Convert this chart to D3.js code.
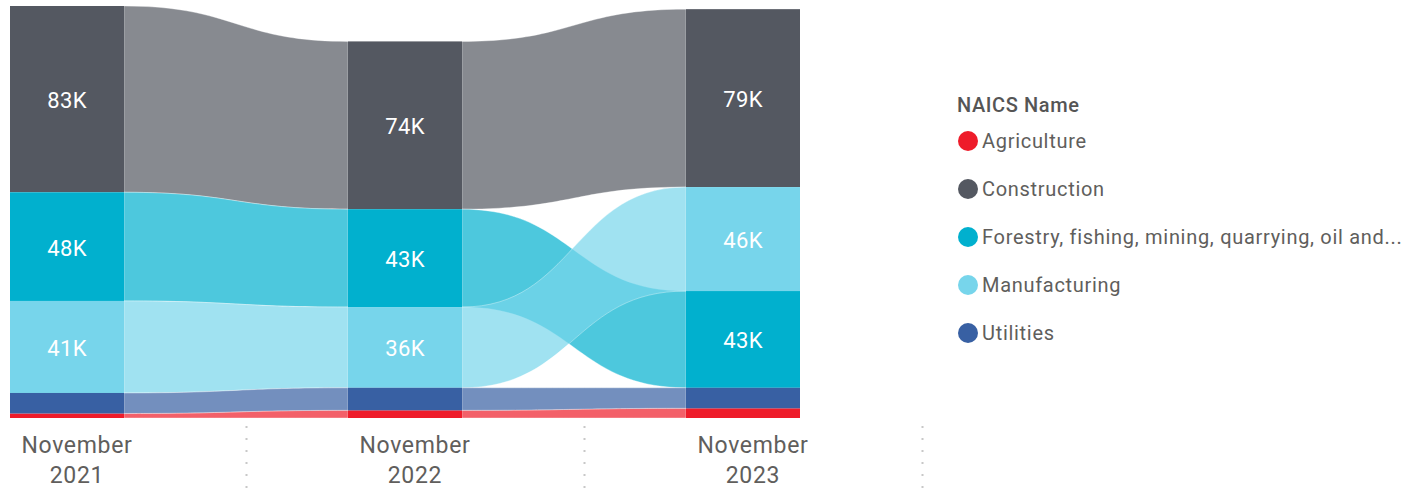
<!DOCTYPE html>
<html>
<head>
<meta charset="utf-8">
<script src="https://cdn.jsdelivr.net/npm/d3@7"></script>
<style>
html,body{margin:0;padding:0;background:#fff;}
svg{display:block;}
text{font-family:Roboto, "Noto Sans", sans-serif;}
</style>
</head>
<body>
<svg id="chart" width="1419" height="489"></svg>
<script>
// ---- data ----
const periods = ["November 2021", "November 2022", "November 2023"];
const categories = ["Agriculture", "Construction", "Forestry, fishing, mining, quarrying, oil and...", "Manufacturing", "Utilities"];
const agriculture   = [2.0, 3.4, 4.3];
const construction  = [82.6, 74.4, 78.9];
const forestry      = [48.2, 43.4, 42.9];
const manufacturing = [40.8, 35.8, 46.1];
const utilities     = [9.1, 10.0, 9.1];
const seriesValues = [agriculture, construction, forestry, manufacturing, utilities];
const colors = ["#EE1C2A", "#545861", "#01B0CE", "#77D5EB", "#3860A3"];
const legendTitle = "NAICS Name";

// ---- layout ----
const svg = d3.select("#chart");
const baseY = 418, topY = 6;
const totals = periods.map((p, i) => d3.sum(seriesValues, s => s[i]));
const y = d3.scaleLinear().domain([0, d3.max(totals)]).range([baseY, topY]);
const x = d3.scaleBand().domain(periods).range([-92, 922]);
const barOffset = 102, barW = 114;

// stack per period: largest on top
const stacks = periods.map((p, i) => {
  const order = d3.range(categories.length).sort((a, b) => seriesValues[a][i] - seriesValues[b][i]);
  let acc = 0;
  const pos = {};
  order.forEach(k => { const v = seriesValues[k][i]; pos[k] = {y0: acc, y1: acc + v, v}; acc += v; });
  return pos;
});

// ribbons
const gR = svg.append("g");
for (let i = 0; i < periods.length - 1; i++) {
  const xa = x(periods[i]) + barOffset + barW;
  const xb = x(periods[i + 1]) + barOffset;
  const xm = (xa + xb) / 2;
  d3.range(categories.length).forEach(k => {
    const a = stacks[i][k], b = stacks[i + 1][k];
    const a0 = y(a.y1), a1 = y(a.y0), b0 = y(b.y1), b1 = y(b.y0);
    const path = `M${xa},${a0} C${xm},${a0} ${xm},${b0} ${xb},${b0} L${xb},${b1} C${xm},${b1} ${xm},${a1} ${xa},${a1} Z`;
    gR.append("path").attr("d", path)
      .attr("fill", colors[k]).attr("fill-opacity", 0.7)
      .attr("stroke", "#fff").attr("stroke-opacity", 0.35).attr("stroke-width", 1);
  });
}

// bars
const gB = svg.append("g");
periods.forEach((p, i) => {
  const bx = x(p) + barOffset;
  categories.forEach((c, k) => {
    const s = stacks[i][k];
    gB.append("rect").attr("x", bx).attr("width", barW)
      .attr("y", y(s.y1)).attr("height", y(s.y0) - y(s.y1))
      .attr("fill", colors[k]);
    if (y(s.y0) - y(s.y1) > 30) {
      gB.append("text").attr("x", bx + barW / 2).attr("y", (y(s.y0) + y(s.y1)) / 2 + 1)
        .attr("dy", "0.36em").attr("text-anchor", "middle")
        .attr("fill", "#fff").attr("font-size", 22).attr("letter-spacing", 0.4)
        .text(d3.format(".0f")(s.v) + "K");
    }
  });
});

// x axis labels
const gX = svg.append("g");
periods.forEach(p => {
  const cx = x(p) + x.bandwidth() / 2;
  const parts = p.split(" ");
  const t = gX.append("text").attr("text-anchor", "middle").attr("fill", "#605E5C")
    .attr("font-size", 23).attr("letter-spacing", 0.7);
  t.append("tspan").attr("x", cx).attr("y", 453).text(parts[0]);
  t.append("tspan").attr("x", cx).attr("y", 483).text(parts[1]);
  gX.append("line").attr("x1", x(p) + x.bandwidth() + 0.5).attr("x2", x(p) + x.bandwidth() + 0.5)
    .attr("y1", 426).attr("y2", 489)
    .attr("stroke", "#c8c8c8").attr("stroke-width", 2).attr("stroke-dasharray", "2,10");
});

// legend
const gL = svg.append("g");
gL.append("text").attr("x", 957).attr("y", 112).attr("fill", "#555").attr("font-size", 20)
  .attr("font-weight", 500).attr("letter-spacing", 0.6).text(legendTitle);
categories.forEach((c, k) => {
  const cy = 141 + k * 48;
  gL.append("circle").attr("cx", 968).attr("cy", cy).attr("r", 10).attr("fill", colors[k]);
  gL.append("text").attr("x", 982).attr("y", cy).attr("dy", "0.36em")
    .attr("fill", "#605E5C").attr("font-size", 20).attr("letter-spacing", 0.7).text(c);
});
</script>
</body>
</html>
